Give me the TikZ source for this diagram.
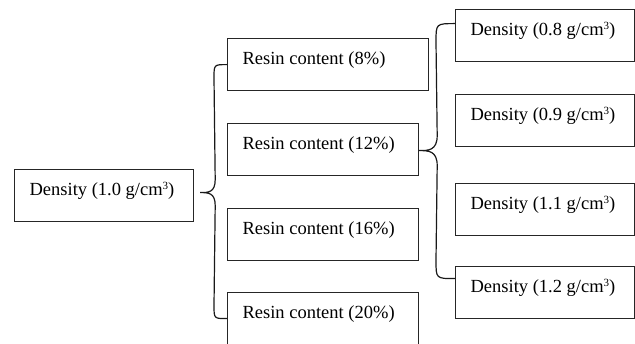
\documentclass[tikz,border=0pt]{standalone}
\usepackage{fontspec}
\setmainfont{Liberation Serif}
\usetikzlibrary{calc}
\newcommand{\boxtext}[2]{\makebox[#1][l]{#2}}
\newcommand{\cubed}{\raisebox{0.75ex}{\fontsize{11}{11}\selectfont 3}}
\tikzset{
  box/.style={draw=black!85, line width=1.2pt, anchor=north west, inner xsep=15pt, inner ysep=0pt,
    minimum height=52pt, text height=13pt, text depth=13pt,
    font=\fontsize{18.5}{22}\selectfont},
  brace/.style={draw=black!90, line width=1.2pt}
}
\begin{document}
\begin{tikzpicture}[x=1pt,y=1pt]
\useasboundingbox (0,0) rectangle (635,343);
% root
\node[box] (L) at (14,174) {\boxtext{149pt}{Density (1.0 g/cm\cubed)}};
% resin content
\node[box] (R8)  at (227,305) {\boxtext{171pt}{Resin content (8\%)}};
\node[box] (R12) at (227,220) {\boxtext{161pt}{Resin content (12\%)}};
\node[box] (R16) at (227,135) {\boxtext{161pt}{Resin content (16\%)}};
\node[box] (R20) at (227,51)  {\boxtext{161pt}{Resin content (20\%)}};
% densities
\node[box] (D08) at (455,334) {\boxtext{149pt}{Density (0.8 g/cm\cubed)}};
\node[box] (D09) at (455,249) {\boxtext{149pt}{Density (0.9 g/cm\cubed)}};
\node[box] (D11) at (455,160) {\boxtext{149pt}{Density (1.1 g/cm\cubed)}};
\node[box] (D12) at (455,77)  {\boxtext{149pt}{Density (1.2 g/cm\cubed)}};
% brace 1: root -> resin contents
\coordinate (t1) at ($(L.east)+(6,3)$);
\draw[brace] (R8.west) .. controls ($(R8.west)+(-13,0)$) .. ($(R8.west)+(-13,-13)$)
  -- ($(t1)+(15,13)$) .. controls ($(t1)+(15,0)$) and ($(t1)+(8,0)$) .. (t1)
  .. controls ($(t1)+(8,0)$) and ($(t1)+(15,0)$) .. ($(t1)+(15,-13)$)
  -- ($(R20.west)+(-13,13)$) .. controls ($(R20.west)+(-13,0)$) .. (R20.west);
% brace 2: resin 12% -> densities
\coordinate (t2) at ($(R12.east)+(0,-1)$);
\coordinate (e1) at ($(D08.west)+(0,12)$);
\coordinate (e2) at ($(D12.west)+(0,14)$);
\draw[brace] (e1) .. controls ($(e1)+(-19,0)$) .. ($(e1)+(-19,-18)$)
  -- ($(t2)+(18,15)$) .. controls ($(t2)+(18,0)$) and ($(t2)+(9,0)$) .. (t2)
  .. controls ($(t2)+(9,0)$) and ($(t2)+(18,0)$) .. ($(t2)+(18,-15)$)
  -- ($(e2)+(-19,18)$) .. controls ($(e2)+(-19,0)$) .. (e2);
\end{tikzpicture}
\end{document}
